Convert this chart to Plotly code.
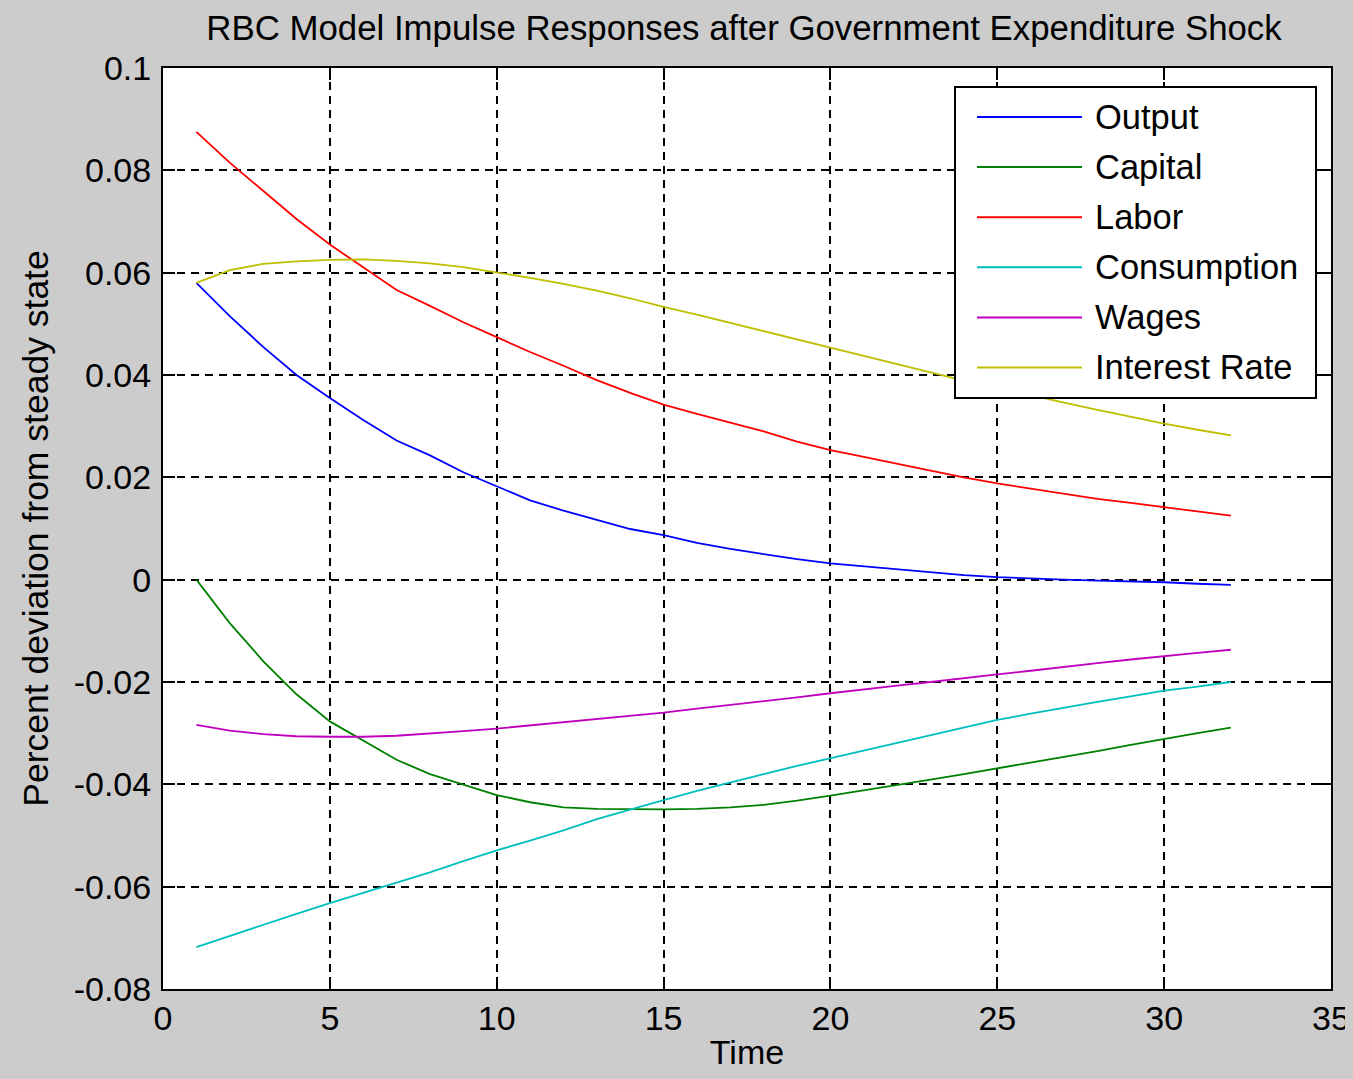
import plotly.graph_objects as go

# ---------------- data ----------------
time = list(range(1, 33))

output = [0.0580, 0.0515, 0.0455, 0.0400, 0.0355, 0.0312, 0.0272, 0.0243, 0.0210, 0.0182,
          0.0155, 0.0135, 0.0117, 0.0099, 0.0087, 0.0072, 0.0060, 0.0050, 0.0040, 0.0032,
          0.0026, 0.0020, 0.0014, 0.0009, 0.0005, 0.0002, 0.0000, -0.0002, -0.0003, -0.0005,
          -0.0008, -0.0010]

capital = [0.0000, -0.0085, -0.0159, -0.0224, -0.0277, -0.0314, -0.0352, -0.0380, -0.0401, -0.0421,
           -0.0435, -0.0445, -0.0448, -0.0449, -0.0449, -0.0448, -0.0445, -0.0440, -0.0432, -0.0422,
           -0.0412, -0.0401, -0.0391, -0.0380, -0.0369, -0.0358, -0.0346, -0.0335, -0.0323, -0.0311,
           -0.0300, -0.0289]

labor = [0.0875, 0.0815, 0.0760, 0.0705, 0.0655, 0.0610, 0.0566, 0.0535, 0.0503, 0.0474,
         0.0445, 0.0418, 0.0390, 0.0365, 0.0342, 0.0324, 0.0307, 0.0290, 0.0270, 0.0253,
         0.0240, 0.0226, 0.0213, 0.0200, 0.0188, 0.0178, 0.0168, 0.0158, 0.0150, 0.0142,
         0.0134, 0.0125]

consumption = [-0.0718, -0.0696, -0.0675, -0.0653, -0.0632, -0.0612, -0.0593, -0.0572, -0.0550, -0.0529,
               -0.0510, -0.0490, -0.0468, -0.0449, -0.0431, -0.0413, -0.0396, -0.0380, -0.0364, -0.0349,
               -0.0334, -0.0318, -0.0303, -0.0288, -0.0274, -0.0262, -0.0250, -0.0239, -0.0228, -0.0217,
               -0.0209, -0.0200]

wages = [-0.0284, -0.0295, -0.0302, -0.0306, -0.0307, -0.0307, -0.0305, -0.0301, -0.0296, -0.0291,
         -0.0285, -0.0279, -0.0273, -0.0266, -0.0260, -0.0252, -0.0245, -0.0237, -0.0230, -0.0222,
         -0.0214, -0.0207, -0.0200, -0.0192, -0.0185, -0.0178, -0.0170, -0.0163, -0.0156, -0.0149,
         -0.0143, -0.0137]

interest_rate = [0.0580, 0.0605, 0.0617, 0.0622, 0.0625, 0.0626, 0.0623, 0.0618, 0.0611, 0.0601,
                 0.0590, 0.0578, 0.0565, 0.0550, 0.0533, 0.0518, 0.0502, 0.0486, 0.0469, 0.0453,
                 0.0437, 0.0421, 0.0405, 0.0389, 0.0375, 0.0360, 0.0346, 0.0332, 0.0318, 0.0305,
                 0.0293, 0.0282]

series_names = ["Output", "Capital", "Labor", "Consumption", "Wages", "Interest Rate"]
series_values = [output, capital, labor, consumption, wages, interest_rate]
series_colors = ["#0000ff", "#008000", "#ff0000", "#00bfbf", "#bf00bf", "#bfbf00"]

x_tickvals = [0, 5, 10, 15, 20, 25, 30, 35]
y_tickvals = [0.1, 0.08, 0.06, 0.04, 0.02, 0, -0.02, -0.04, -0.06, -0.08]
y_ticktext = ["0.1", "0.08", "0.06", "0.04", "0.02", "0", "-0.02", "-0.04", "-0.06", "-0.08"]

# ---------------- layout geometry (page pixels) ----------------
PAGE_W, PAGE_H = 1353, 1079
BODY = 8                                   # default browser body margin
W, H = PAGE_W - BODY, PAGE_H - 2 * BODY    # figure reaches the right page edge
PLOT_L, PLOT_R, PLOT_T, PLOT_B = 163, 1331, 68, 989   # plot area in page pixels
L, T = PLOT_L - BODY, PLOT_T - BODY
R, B = (BODY + W) - PLOT_R, (BODY + H) - PLOT_B
PW, PH = W - L - R, H - T - B
FONT = "Liberation Sans, Arial, sans-serif"


def px_x(p):
    return (p - PLOT_L) / PW


def px_y(p):
    return 1 - (p - PLOT_T) / PH


fig = go.Figure()
for name, vals, col in zip(series_names, series_values, series_colors):
    fig.add_trace(go.Scatter(x=time, y=vals, mode="lines", name=name,
                             line=dict(color=col, width=1.8), showlegend=False))

# manual MATLAB-style legend
shapes = [dict(type="rect", xref="paper", yref="paper",
               x0=px_x(955), x1=px_x(1316), y0=px_y(398), y1=px_y(87),
               fillcolor="white", line=dict(color="black", width=2), layer="above")]
annotations = []
row0, step = 117, 50.1
for i, (name, col) in enumerate(zip(series_names, series_colors)):
    yy = px_y(row0 + i * step)
    shapes.append(dict(type="line", xref="paper", yref="paper",
                       x0=px_x(977), x1=px_x(1082), y0=yy, y1=yy,
                       line=dict(color=col, width=2), layer="above"))
    annotations.append(dict(xref="paper", yref="paper", x=px_x(1093), y=yy,
                            xanchor="left", yanchor="middle", showarrow=False,
                            text=name, font=dict(family=FONT, size=34.5, color="black")))

fig.update_layout(
    width=W, height=H, autosize=False,
    margin=dict(l=L, r=R, t=T, b=B, autoexpand=False),
    paper_bgcolor="#cccccc", plot_bgcolor="white",
    font=dict(family=FONT, size=34, color="black"),
    title=dict(text="RBC Model Impulse Responses after Government Expenditure Shock",
               x=px_x(744), xref="paper", xanchor="center",
               y=1 - (28 - BODY) / H, yref="container", yanchor="middle",
               font=dict(family=FONT, size=34.8, color="black")),
    shapes=shapes, annotations=annotations,
    showlegend=False,
    hovermode=False,
)

axis_common = dict(showline=True, linecolor="black", linewidth=2, mirror="ticks",
                   ticks="inside", ticklen=12, tickwidth=2, tickcolor="black",
                   showgrid=True, gridcolor="black", gridwidth=2, griddash="8px,6px",
                   zeroline=False, automargin=False, ticklabeloverflow="allow",
                   tickfont=dict(family=FONT, size=34, color="black"))

fig.update_xaxes(range=[0, 35], tickvals=x_tickvals, ticktext=[str(v) for v in x_tickvals],
                 title=dict(text="Time", standoff=24, font=dict(family=FONT, size=34)),
                 ticklabelstandoff=-2, **axis_common)
fig.update_yaxes(range=[-0.08, 0.1], tickvals=y_tickvals, ticktext=y_ticktext,
                 title=dict(text="Percent deviation from steady state", standoff=14,
                            font=dict(family=FONT, size=35.5)),
                 ticklabelstandoff=3, **axis_common)

fig.write_html("out.html",
               config={"responsive": False, "displayModeBar": False},
               post_script="document.body.style.background='#cccccc';")
